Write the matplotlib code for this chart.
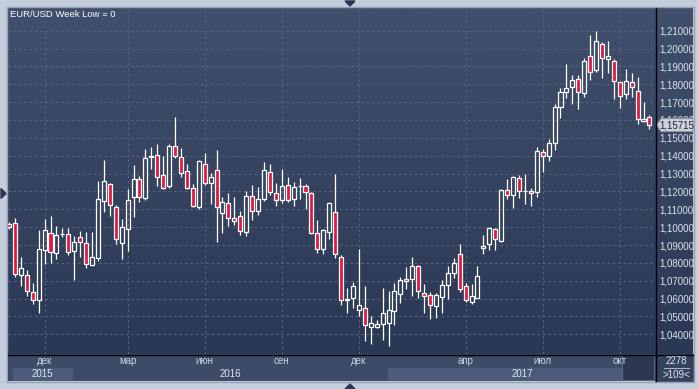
import matplotlib
matplotlib.use("Agg")
import matplotlib.pyplot as plt
import numpy as np
from matplotlib.patches import Rectangle, Polygon

plt.rcParams['font.family'] = ['Liberation Sans', 'DejaVu Sans']

# weekly EUR/USD candles (oldest first)
opens = [1.1020, 1.1025, 1.0730, 1.0734, 1.0637, 1.0590, 1.0870, 1.0969, 1.0855, 1.0960,
         1.0963, 1.0868, 1.0946, 1.0913, 1.0788, 1.0829, 1.1144, 1.1244, 1.1114, 1.0913,
         1.0991, 1.1167, 1.1272, 1.1161, 1.1391, 1.1406, 1.1294, 1.1230, 1.1456, 1.1394,
         1.1317, 1.1217, 1.1111, 1.1356, 1.1250, 1.1322, 1.1078, 1.1133, 1.1050, 1.1061,
         1.0972, 1.1174, 1.1092, 1.1156, 1.1309, 1.1192, 1.1153, 1.1236, 1.1158, 1.1228,
         1.1231, 1.1192, 1.0969, 1.0880, 1.0974, 1.1086, 1.0835, 1.0590, 1.0601, 1.0534,
         1.0545, 1.0443, 1.0443, 1.0456, 1.0461, 1.0532, 1.0623, 1.0707, 1.0711, 1.0785,
         1.0629, 1.0618, 1.0560, 1.0610, 1.0677, 1.0741, 1.0847, 1.0668, 1.0579, 1.0606,
         1.0886, 1.0903, 1.0990, 1.0923, 1.1210, 1.1182, 1.1277, 1.1200, 1.1205, 1.1199,
         1.1423, 1.1401, 1.1472, 1.1674, 1.1758, 1.1786, 1.1827, 1.1752, 1.1958, 1.1879,
         1.2025, 1.1943, 1.1928, 1.1810, 1.1743, 1.1810, 1.1765, 1.1597, 1.1614]
highs = [1.1030, 1.1053, 1.0831, 1.0758, 1.0688, 1.0982, 1.1043, 1.1060, 1.1004, 1.0993,
         1.0993, 1.0948, 1.0978, 1.0972, 1.0971, 1.1256, 1.1377, 1.1250, 1.1125, 1.1045,
         1.1215, 1.1346, 1.1285, 1.1439, 1.1450, 1.1467, 1.1396, 1.1467, 1.1619, 1.1446,
         1.1352, 1.1244, 1.1374, 1.1418, 1.1302, 1.1431, 1.1167, 1.1189, 1.1167, 1.1091,
         1.1202, 1.1235, 1.1225, 1.1367, 1.1355, 1.1248, 1.1328, 1.1283, 1.1253, 1.1277,
         1.1242, 1.1197, 1.1038, 1.0991, 1.1143, 1.1298, 1.0842, 1.0657, 1.0694, 1.0876,
         1.0670, 1.0502, 1.0480, 1.0657, 1.0640, 1.0689, 1.0720, 1.0778, 1.0832, 1.0787,
         1.0679, 1.0636, 1.0629, 1.0704, 1.0782, 1.0828, 1.0908, 1.0685, 1.0679, 1.0782,
         1.0955, 1.1000, 1.0998, 1.1214, 1.1268, 1.1286, 1.1290, 1.1296, 1.1218, 1.1448,
         1.1440, 1.1492, 1.1689, 1.1777, 1.1913, 1.1851, 1.1851, 1.1949, 1.2078, 1.2098,
         1.2035, 1.2042, 1.1943, 1.1810, 1.1885, 1.1861, 1.1838, 1.1700, 1.1629]
lows = [1.0990, 1.0721, 1.0671, 1.0613, 1.0568, 1.0520, 1.0792, 1.0799, 1.0823, 1.0943,
        1.0844, 1.0706, 1.0833, 1.0771, 1.0781, 1.0810, 1.1084, 1.1060, 1.0904, 1.0822,
        1.0866, 1.1059, 1.1143, 1.1152, 1.1328, 1.1231, 1.1213, 1.1220, 1.1387, 1.1281,
        1.1213, 1.1111, 1.1100, 1.1235, 1.1130, 1.0917, 1.0970, 1.1004, 1.1013, 1.0954,
        1.0950, 1.1041, 1.1067, 1.1149, 1.1181, 1.1117, 1.1134, 1.1143, 1.1117, 1.1158,
        1.1099, 1.0963, 1.0855, 1.0852, 1.0935, 1.0829, 1.0565, 1.0517, 1.0549, 1.0504,
        1.0363, 1.0348, 1.0434, 1.0368, 1.0335, 1.0454, 1.0577, 1.0655, 1.0616, 1.0605,
        1.0519, 1.0487, 1.0493, 1.0521, 1.0599, 1.0717, 1.0636, 1.0579, 1.0567, 1.0604,
        1.0849, 1.0873, 1.0874, 1.0918, 1.1158, 1.1108, 1.1165, 1.1130, 1.1119, 1.1169,
        1.1309, 1.1373, 1.1433, 1.1612, 1.1724, 1.1689, 1.1663, 1.1730, 1.1823, 1.1870,
        1.1836, 1.1861, 1.1717, 1.1668, 1.1720, 1.1730, 1.1575, 1.1586, 1.1549]
closes = [1.1003, 1.0740, 1.0773, 1.0645, 1.0594, 1.0880, 1.0985, 1.0863, 1.0958, 1.0963,
          1.0863, 1.0918, 1.0915, 1.0796, 1.0831, 1.1159, 1.1256, 1.1123, 1.0935, 1.1002,
          1.1153, 1.1272, 1.1167, 1.1389, 1.1400, 1.1283, 1.1222, 1.1452, 1.1400, 1.1306,
          1.1222, 1.1117, 1.1369, 1.1250, 1.1280, 1.1111, 1.1139, 1.1050, 1.1035, 1.0980,
          1.1174, 1.1089, 1.1158, 1.1320, 1.1196, 1.1153, 1.1231, 1.1153, 1.1225, 1.1232,
          1.1197, 1.0969, 1.0880, 1.0985, 1.1136, 1.0852, 1.0590, 1.0595, 1.0670, 1.0562,
          1.0450, 1.0461, 1.0458, 1.0517, 1.0534, 1.0640, 1.0702, 1.0696, 1.0780, 1.0640,
          1.0612, 1.0562, 1.0618, 1.0674, 1.0741, 1.0797, 1.0651, 1.0590, 1.0612, 1.0724,
          1.0897, 1.0998, 1.0931, 1.1210, 1.1182, 1.1283, 1.1200, 1.1205, 1.1193, 1.1429,
          1.1401, 1.1470, 1.1670, 1.1756, 1.1777, 1.1823, 1.1758, 1.1930, 1.1866, 1.2040,
          1.1949, 1.1956, 1.1821, 1.1736, 1.1821, 1.1782, 1.1607, 1.1608, 1.1572]

month_pos = [6, 20, 33, 46, 59, 77, 90, 103]
month_labels = ['дек', 'мар', 'июн', 'сен', 'дек', 'апр', 'июл', 'окт']
year_labels = ['2015', '2016', '2017']
year_pos = [5.7, 37.3, 86.5]
price_levels = np.round(np.arange(1.04, 1.2101, 0.01), 2)
last_price = 1.15715

W, H = 698, 389
fig = plt.figure(figsize=(W / 100, H / 100), dpi=100)
fig.patch.set_facecolor('#c3cddb')

def px_axes(x0, y0, x1, y1, **kw):
    return fig.add_axes([x0 / W, 1 - y1 / H, (x1 - x0) / W, (y1 - y0) / H], **kw)

# background with gradient, pixel coords
bg = px_axes(0, 0, W, H)
bg.set_zorder(0)
bg.axis('off')
grad = np.linspace(0, 1, 256)[:, None, None]
top_c = np.array([0x40, 0x4f, 0x6b]) / 255
bot_c = np.array([0x2b, 0x38, 0x55]) / 255
bg.imshow(top_c * (1 - grad) + bot_c * grad, extent=(8, 693, 354, 8), aspect='auto')
bg.add_patch(Rectangle((655, 354), 38, 27, color='#34425e'))
bg.add_patch(Rectangle((7, 7), 687, 375, fill=False, ec='#97a3b5', lw=1))
bg.set_xlim(0, W)
bg.set_ylim(H, 0)

# main candle axes
n = len(opens)
x = np.arange(n)
o = np.array(opens); c = np.array(closes)
hi = np.array(highs); lo = np.array(lows)
ax = px_axes(8, 8, 655, 354)
ax.set_zorder(1)
ax.set_facecolor('none')
ax.set_xlim((8 - 9) / 5.93, (655 - 9) / 5.93)
ax.set_ylim(1.02898, 1.22271)
for s in ax.spines.values():
    s.set_visible(False)

ax.set_yticks(price_levels)
ax.set_yticklabels([f'{v:.5f}'.replace('.', ',') for v in price_levels])
ax.yaxis.tick_right()
ax.tick_params(axis='y', length=0, pad=3, labelsize=7, labelcolor='#dce3ee')
ax.set_xticks(month_pos)
ax.tick_params(axis='x', length=0, labelbottom=False)
ax.grid(True, color='#5a6882', lw=0.7, linestyle=(0, (2.5, 3)))
ax.set_axisbelow(True)

body_lo = np.minimum(o, c)
body_hi = np.maximum(o, c)
ax.vlines(x, lo, body_lo, color='white', lw=0.9, zorder=2)
ax.vlines(x, body_hi, hi, color='white', lw=0.9, zorder=2)
up = c >= o
ax.bar(x[up], (body_hi - body_lo)[up], 0.68, bottom=body_lo[up],
       facecolor='none', edgecolor='white', lw=0.9, zorder=3)
ax.bar(x[~up], (body_hi - body_lo)[~up], 0.68, bottom=body_lo[~up],
       facecolor='#e3163e', edgecolor='white', lw=0.9, zorder=3)

# bottom time axis
axb = px_axes(8, 354, 655, 381, sharex=ax)
axb.set_zorder(1)
axb.set_facecolor('#3d4b68')
axb.set_ylim(0, 2)
axb.axis('off')
axb.add_patch(Rectangle((-1, 0), 120, 2, color='#3d4b68', zorder=0))
axb.add_patch(Rectangle((0.7, 0), 10.0, 1, color='#4c5b79', zorder=1))
axb.add_patch(Rectangle((63.9, 0), 39.5, 1, color='#4c5b79', zorder=1))
axb.add_patch(Rectangle((103.4, 0.04), 5.4, 1.9, fc='#2c3853', ec='#5a667c', lw=0.8, zorder=2))
for p, t in zip(month_pos, month_labels):
    axb.text(p, 1.45, t, ha='center', va='center', fontsize=7, color='#c9d3e3', zorder=3)
for p, t in zip(year_pos, year_labels):
    axb.text(p, 0.5, t, ha='center', va='center', fontsize=7, color='#dfe6f0', zorder=3)

# overlay: separators, price tag, arrows, texts
ov = px_axes(0, 0, W, H)
ov.set_zorder(3)
ov.set_facecolor('none')
ov.axis('off')
ov.set_xlim(0, W)
ov.set_ylim(H, 0)
ov.plot([655.5, 655.5], [8, 381], color='black', lw=1)
ov.plot([8, 693], [354.5, 354.5], color='black', lw=1)
ov.text(10, 14.5, 'EUR/USD Week Low = 0', fontsize=6.8, color='white', ha='left', va='center')

ty = 30.7 + (1.21 - last_price) * 1786
ov.add_patch(Polygon([(656.5, ty), (661, ty - 6.5), (693, ty - 6.5), (693, ty + 6.5), (661, ty + 6.5)],
                     closed=True, fc='#cdd2da', ec='#8b95a6', lw=0.8))
ov.text(677, ty, f'{last_price:.5f}'.replace('.', ','), fontsize=7, color='#1d2537',
        ha='center', va='center')

ov.text(676, 361, '2278', fontsize=7, color='#dfe6f0', ha='center', va='center')
ov.plot([664, 689], [367.5, 367.5], color='#aab4c4', lw=0.8)
ov.text(676, 374.5, '>109<', fontsize=7, color='#dfe6f0', ha='center', va='center')

arrow_c = '#2a3551'
ov.add_patch(Polygon([(345, 1), (355, 1), (350, 6)], closed=True, color=arrow_c))
ov.add_patch(Polygon([(345, 389), (355, 389), (350, 384)], closed=True, color=arrow_c))
ov.add_patch(Polygon([(1, 188.5), (1, 198.5), (6, 193.5)], closed=True, color=arrow_c))

fig.savefig('out.png', dpi=100, facecolor=fig.get_facecolor())
